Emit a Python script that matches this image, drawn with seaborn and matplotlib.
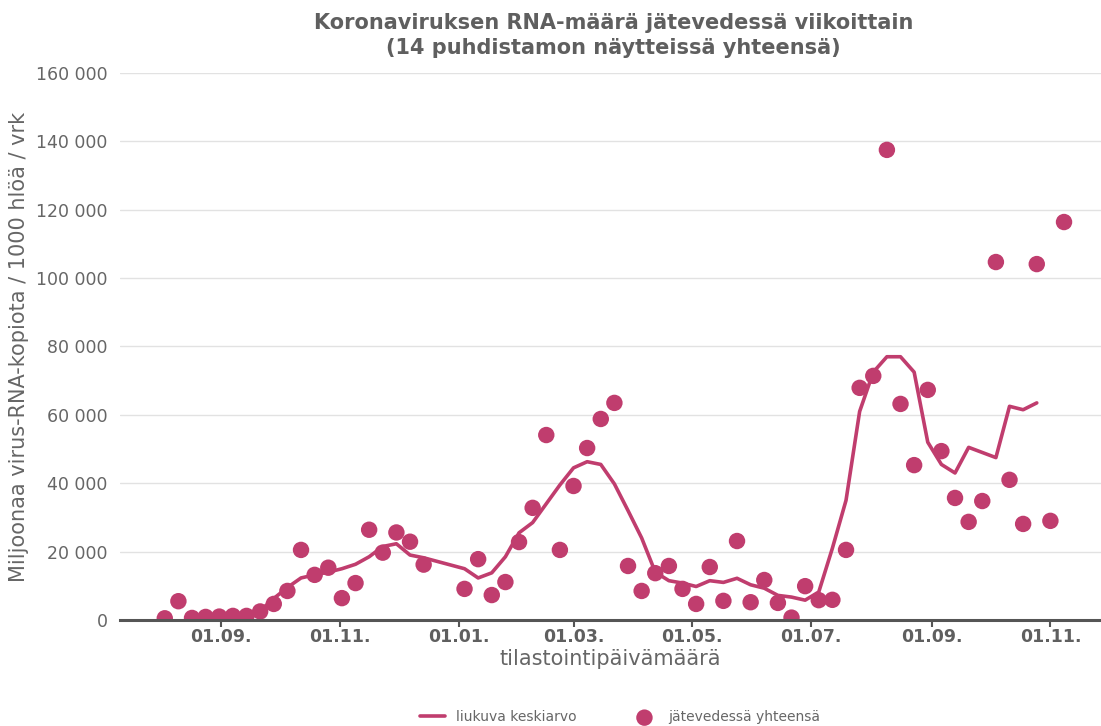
import pandas as pd
import seaborn as sns
import matplotlib.pyplot as plt
import matplotlib.dates as mdates
from matplotlib.ticker import FuncFormatter, MultipleLocator
import numpy as np

# weekly sampling dates (no samples on the two holiday weeks)
weeks = pd.date_range("2021-08-03", "2022-11-08", freq="7D")
skip = pd.to_datetime(["2021-12-21", "2021-12-28"])
dates = weeks[~weeks.isin(skip)]

# wastewater total, per sample week
total = [500, 5500, 600, 900, 1000, 1200, 1200, 2500, 4700, 8500,
         20500, 13200, 15300, 6400, 10800, 26400, 19700, 25600, 22900, 16200,
         9100, 17800, 7300, 11100, 22800, 32800, 54100, 20500, 39200, 50300,
         58800, 63500, 15800, 8500, 13700, 15800, 9100, 4700, 15500, 5600,
         23100, 5200, 11700, 5000, 700, 9900, 5800, 5900, 20500, 67900,
         71400, 137500, 63200, 45300, 67300, 49400, 35700, 28700, 34800, 104700,
         41000, 28100, 104100, 29000, 116400]

# moving average
rolling = [np.nan, np.nan, np.nan, np.nan, 900, 1000, 1400, 2700, 6300, 9500,
           12300, 13200, 14000, 15000, 16300, 18500, 21500, 22300, 19000, 18200,
           15000, 12300, 13800, 18500, 25500, 28500, 34000, 39500, 44500, 46300,
           45500, 39800, 32000, 24000, 14000, 11500, 10800, 9800, 11500, 11000,
           12200, 10300, 9300, 7200, 6700, 5800, 8200, 21000, 35000, 61000,
           72500, 77000, 77000, 72500, 52000, 45500, 43000, 50500, 49000, 47500,
           62500, 61500, 63500, np.nan, np.nan]

df = pd.DataFrame({"pvm": dates, "yhteensa": total, "liukuva": rolling})

color = "#c03d6e"
grey = "#5f5f5f"

sns.set_theme(style="whitegrid")
plt.rcParams["font.family"] = ["DejaVu Sans"]

fig = plt.figure(figsize=(11.01, 7.26), dpi=100)
ax = fig.add_axes([0.109, 0.146, 0.891, 0.7535])

sns.lineplot(data=df.dropna(), x="pvm", y="liukuva", ax=ax, color=color,
             linewidth=2.6, label="liukuva keskiarvo", zorder=3)
sns.scatterplot(data=df, x="pvm", y="yhteensa", ax=ax, color=color, s=140,
                edgecolor="none", label="jätevedessä yhteensä", zorder=4)

ax.set_xlim(pd.Timestamp("2021-07-11"), pd.Timestamp("2022-11-27"))
ax.set_ylim(0, 160000)
ax.yaxis.set_major_locator(MultipleLocator(20000))
ax.yaxis.set_major_formatter(FuncFormatter(lambda v, p: f"{v:,.0f}".replace(",", " ")))
ax.xaxis.set_major_locator(mdates.MonthLocator(bymonth=[1, 3, 5, 7, 9, 11]))
ax.xaxis.set_major_formatter(mdates.DateFormatter("%d.%m."))

ax.grid(axis="x", visible=False)
ax.grid(axis="y", color="#e2e2e2", linewidth=1)
for s in ["top", "right", "left"]:
    ax.spines[s].set_visible(False)
ax.spines["bottom"].set_color("#555555")
ax.spines["bottom"].set_linewidth(2.2)
ax.spines["bottom"].set_zorder(5)

ax.tick_params(axis="x", bottom=True, length=5, width=1.5, color="#555555",
               labelsize=12.5, labelcolor=grey, pad=1)
ax.tick_params(axis="y", left=False, labelsize=12.5, labelcolor="#666666", pad=3)
for lab in ax.get_xticklabels():
    lab.set_fontweight("bold")

ax.set_xlabel("tilastointipäivämäärä", fontsize=15, color="#666666", labelpad=2)
ax.set_ylabel("Miljoonaa virus-RNA-kopiota / 1000 hlöä / vrk", fontsize=15,
              color="#666666")
ax.yaxis.set_label_coords(-0.093, 0.5)

fig.suptitle("Koronaviruksen RNA-määrä jätevedessä viikoittain\n(14 puhdistamon näytteissä yhteensä)",
             x=0.557, y=0.982, fontsize=15, fontweight="bold", color=grey,
             linespacing=1.3)

ax.legend_.remove()
h, l = ax.get_legend_handles_labels()
fig.legend(h, l, loc="center", bbox_to_anchor=(0.563, 0.012), ncol=2,
           frameon=False, fontsize=10, labelcolor="#666666",
           handlelength=1.8, columnspacing=4.0, markerscale=1.0)

fig.savefig("out.png", dpi=100)
